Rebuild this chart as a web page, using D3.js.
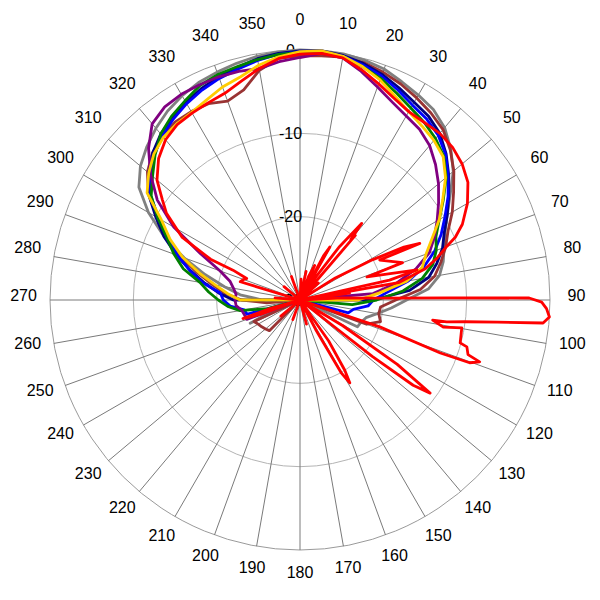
<!DOCTYPE html>
<html><head><meta charset="utf-8">
<script src="https://cdn.jsdelivr.net/npm/d3@7"></script>
<style>body{margin:0;background:#fff} svg{display:block}</style>
</head><body><svg id="c" width="600" height="600"></svg>
<script>
// ---------- data ----------
const angleTicks = d3.range(0, 360, 10);          // spoke / label angles
const radialTicks = [0, -10, -20, -30];            // dB rings
const angles = d3.range(0, 360, 5);                // sample angles for series

const grayValues = [
  0, 0, 0, -0.2, -0.5, -1.1, -1.6, -2.1, -3.0, -4.4, -6.0, -8.0,
  -9.6, -10.8, -11.6, -12.2, -13.0, -14.5, -17.2, -19.0, -20.6, -21.8, -22.2, -22.4,
  -30, -30, -30, -30, -30, -30, -30, -30, -30, -30, -30, -30,
  -30, -30, -30, -30, -30, -30, -30, -30, -30, -30, -30, -30,
  -30, -23.4, -27, -30, -30, -30, -25.5, -22.8, -20.8, -18.2, -15.2, -12.0,
  -9.0, -6.4, -5.0, -4.0, -3.1, -2.3, -1.7, -1.2, -0.9, -0.6, -0.3, -0.1];
const brownValues = [
  -0.7, -0.6, -0.4, -0.5, -0.9, -1.4, -2.0, -2.6, -3.3, -4.5, -5.9, -7.5,
  -8.9, -10.4, -11.4, -12.5, -13.6, -15.5, -18.5, -20.3, -20.4, -20.0, -21.5, -30,
  -30, -30, -30, -30, -30, -30, -30, -30, -30, -30, -30, -30,
  -30, -30, -30, -30, -30, -30, -30, -30, -30, -24.8, -24.6, -24.4,
  -24.2, -23.9, -30, -30, -30, -26, -23, -21, -19.3, -17.2, -14.8, -12.4,
  -10.2, -7.8, -6.1, -5.0, -4.3, -3.9, -3.9, -4.0, -4.6, -3.9, -2.0, -0.9];
const navyValues = [
  -0.1, 0, -0.2, -0.6, -1.2, -1.9, -2.6, -3.1, -3.9, -5.2, -6.7, -8.2,
  -9.6, -10.9, -11.8, -13.0, -14.3, -16.8, -21.2, -30, -30, -30, -30, -30,
  -30, -30, -30, -30, -30, -30, -30, -30, -30, -30, -30, -30,
  -30, -30, -30, -30, -30, -30, -30, -30, -30, -30, -30, -30,
  -30, -30, -30, -30, -30, -30, -22, -20.2, -18.4, -16.4, -14.2, -12.0,
  -10.0, -7.8, -6.3, -5.0, -4.0, -3.3, -2.6, -2.0, -1.5, -1.1, -0.6, -0.3];
const blueValues = [
  -0.2, -0.1, -0.3, -0.8, -1.4, -2.2, -3.0, -3.5, -4.2, -5.3, -6.8, -8.3,
  -9.9, -11.3, -12.8, -14.6, -16.8, -19.5, -21.2, -21.8, -23.5, -24.0, -30, -30,
  -30, -30, -30, -30, -30, -30, -30, -30, -30, -30, -30, -30,
  -30, -30, -30, -30, -30, -30, -30, -30, -30, -30, -30, -30,
  -30, -30, -30, -23.4, -23.2, -21.6, -20.8, -20.4, -18.2, -16.3, -14.4, -12.4,
  -10.4, -8.1, -6.6, -5.3, -4.3, -3.5, -2.8, -2.2, -1.7, -1.3, -0.8, -0.4];
const greenValues = [
  -0.3, -0.2, -0.4, -1.0, -1.7, -2.6, -3.4, -4.0, -4.7, -5.6, -7.1, -9.0,
  -10.7, -12.0, -12.6, -13.5, -15.1, -17.6, -20.8, -23.7, -30, -30, -30, -30,
  -30, -30, -30, -30, -30, -30, -30, -30, -30, -30, -30, -30,
  -30, -30, -30, -30, -30, -30, -30, -30, -30, -30, -30, -30,
  -30, -30, -30, -26, -22.7, -21.3, -20.2, -19.0, -17.8, -15.5, -13.9, -12.4,
  -10.3, -8.2, -6.9, -5.4, -4.0, -3.1, -2.4, -1.6, -1.2, -1.0, -0.7, -0.4];
const purpleValues = [
  -0.9, -0.3, -0.5, -1.6, -2.8, -3.8, -4.5, -5.0, -5.8, -7.0, -8.3, -9.7,
  -11.0, -12.2, -13.5, -15.6, -18.2, -21.2, -30, -30, -30, -30, -30, -30,
  -30, -30, -30, -30, -30, -30, -30, -30, -30, -30, -30, -30,
  -30, -30, -30, -30, -30, -30, -30, -30, -30, -30, -30, -30,
  -30, -30, -23.2, -23.1, -22.9, -22.3, -22.2, -22.3, -21.9, -21.3, -19.8, -16.8,
  -12.5, -9.1, -6.6, -4.3, -2.4, -1.7, -1.5, -1.5, -1.5, -1.6, -1.8, -1.3];
const yellowValues = [
  -0.2, 0, -0.3, -1.0, -1.9, -3.0, -3.9, -4.5, -5.0, -5.7, -7.2, -9.1,
  -10.7, -12.5, -13.9, -14.8, -17.0, -20.5, -23.0, -30, -30, -30, -30, -30,
  -30, -30, -30, -30, -30, -30, -30, -30, -30, -30, -30, -30,
  -30, -30, -30, -30, -30, -30, -30, -30, -30, -30, -30, -30,
  -30, -30, -30, -30, -30, -30, -22.8, -21.3, -19.7, -17.5, -15.0, -12.8,
  -10.8, -7.6, -6.3, -5.2, -4.5, -4.2, -4.0, -3.5, -2.8, -2.3, -1.4, -0.7];

// red main envelope (own angles)
const redAngles = [0, 5, 10, 15, 20, 25, 30, 35, 40, 45, 50, 55, 60, 65, 68, 70, 73, 76, 80, 84,
  286, 287, 290, 292, 294, 294.5, 298, 303, 306, 310, 315, 320, 325, 330, 335, 340, 345, 350, 355];
const redValues = [-0.5, -0.3, -0.5, -1.4, -2.4, -3.3, -3.9, -4.0, -3.9, -4.1, -4.6, -5.4, -6.8, -8.5, -9.9, -11.3, -12.8, -14.5, -18, -30,
  -30, -22.5, -22.8, -23.1, -21.2, -18.2, -14.0, -10.9, -9.6, -7.6, -6.0, -4.9, -4.3, -4.1, -3.9, -3.6, -2.8, -1.8, -0.9];

// red side-lobe trace (own angles)
const redLobeAngles = [0, 3, 6, 12, 15, 20, 23, 25, 28, 29.4, 30.5,
  34, 36.5, 38.8, 40, 40.6, 41.5, 47, 50,
  58, 61, 63, 64.7, 63.4, 70, 71, 75.6, 77.5, 79, 82, 85,
  87, 88.6, 89.2, 89.5, 90.5, 92, 93.9, 95.4, 96.4, 97.5, 98.5, 98.6, 100.7, 99.8, 105, 105.7, 108, 109, 110.3, 110.7, 108.6, 112,
  118, 121, 123.5, 125.6, 127, 128, 130,
  140, 145, 147.5, 149, 150.5, 152, 154,
  165, 170, 200, 205, 230, 235, 250, 252, 254, 258, 275, 280, 310, 315, 340, 345, 360];
const redLobeValues = [-30, -27.5, -30, -26.5, -30, -27, -25.5, -30, -24, -22.7, -30,
  -27, -22, -18.2, -20.5, -19.8, -30, -27, -30,
  -25, -20, -16, -14.1, -19.3, -16.9, -21.5, -15.5, -19, -30, -24, -30,
  -25, -20.4, -12, -2.5, -1, -0.4, 0, -0.7, -6.2, -10, -12.2, -13.9, -12.5, -10.3, -10.1, -9.2, -8.8, -7.2, -8.3, -12, -19.9, -30,
  -30, -24, -16, -10.8, -13, -19, -30,
  -30, -24, -20, -18.4, -20, -26, -30,
  -27, -30, -27.5, -30, -27, -30, -25, -22.8, -26, -30, -27, -30, -27.5, -30, -27, -30, -30];

// ---------- drawing ----------
const svg = d3.select("#c");
const cx = 300, cy = 300, R = 250;
const r = d3.scaleLinear().domain([-30, 0]).range([0, R]).clamp(true);
const rad = d => d * Math.PI / 180;
const g = svg.append("g").attr("transform", `translate(${cx},${cy})`);
const font = "'Liberation Sans', Arial, sans-serif";

// rings
g.selectAll("circle.ring").data(radialTicks.filter(t => t > -30)).enter().append("circle")
  .attr("r", d => r(d)).attr("fill", "none")
  .attr("stroke", d => d === 0 ? "#9a9a9a" : "#b4b4b4").attr("stroke-width", 1);
// spokes
g.selectAll("line.spoke").data(angleTicks).enter().append("line")
  .attr("x1", 0).attr("y1", 0)
  .attr("x2", d => r(0) * Math.sin(rad(d))).attr("y2", d => -r(0) * Math.cos(rad(d)))
  .attr("stroke", "#7a7a7a").attr("stroke-width", 1);
// angle labels
const LR = 276.5;
g.selectAll("text.ang").data(angleTicks).enter().append("text")
  .attr("x", d => LR * Math.sin(rad(d)))
  .attr("y", d => -LR * Math.cos(rad(d)) - 4.5 + 5.7)
  .attr("text-anchor", "middle").attr("font-family", font).attr("font-size", 16).attr("fill", "#000")
  .text(d => d);
// radial labels
g.selectAll("text.rl").data(radialTicks).enter().append("text")
  .attr("x", -9.5).attr("y", d => -r(d) + 5.7)
  .attr("text-anchor", "middle").attr("font-family", font).attr("font-size", 16).attr("fill", "#000")
  .text(d => d);

const line = d3.lineRadial().angle(d => rad(d[0])).radius(d => r(d[1])).curve(d3.curveLinearClosed);
const lineOpen = d3.lineRadial().angle(d => rad(d[0])).radius(d => r(d[1])).curve(d3.curveLinear);

const series = [
  {vals: grayValues, color: "#808080"},
  {vals: brownValues, color: "#993333"},
  {vals: navyValues, color: "#000080"},
  {vals: blueValues, color: "#0000ff"},
  {vals: greenValues, color: "#008000"},
  {vals: purpleValues, color: "#800080"},
  {vals: yellowValues, color: "#ffcc00"}
];
series.forEach(s => {
  g.append("path").attr("d", line(angles.map((a, i) => [a, s.vals[i]])))
    .attr("fill", "none").attr("stroke", s.color).attr("stroke-width", 2.8)
    .attr("stroke-linejoin", "round");
});
g.append("path").attr("d", line(redAngles.map((a, i) => [a, redValues[i]])))
  .attr("fill", "none").attr("stroke", "#ff0000").attr("stroke-width", 2.8).attr("stroke-linejoin", "round");
g.append("path").attr("d", lineOpen(redLobeAngles.map((a, i) => [a, redLobeValues[i]])))
  .attr("fill", "none").attr("stroke", "#ff0000").attr("stroke-width", 2.8).attr("stroke-linejoin", "round");
</script></body></html>
